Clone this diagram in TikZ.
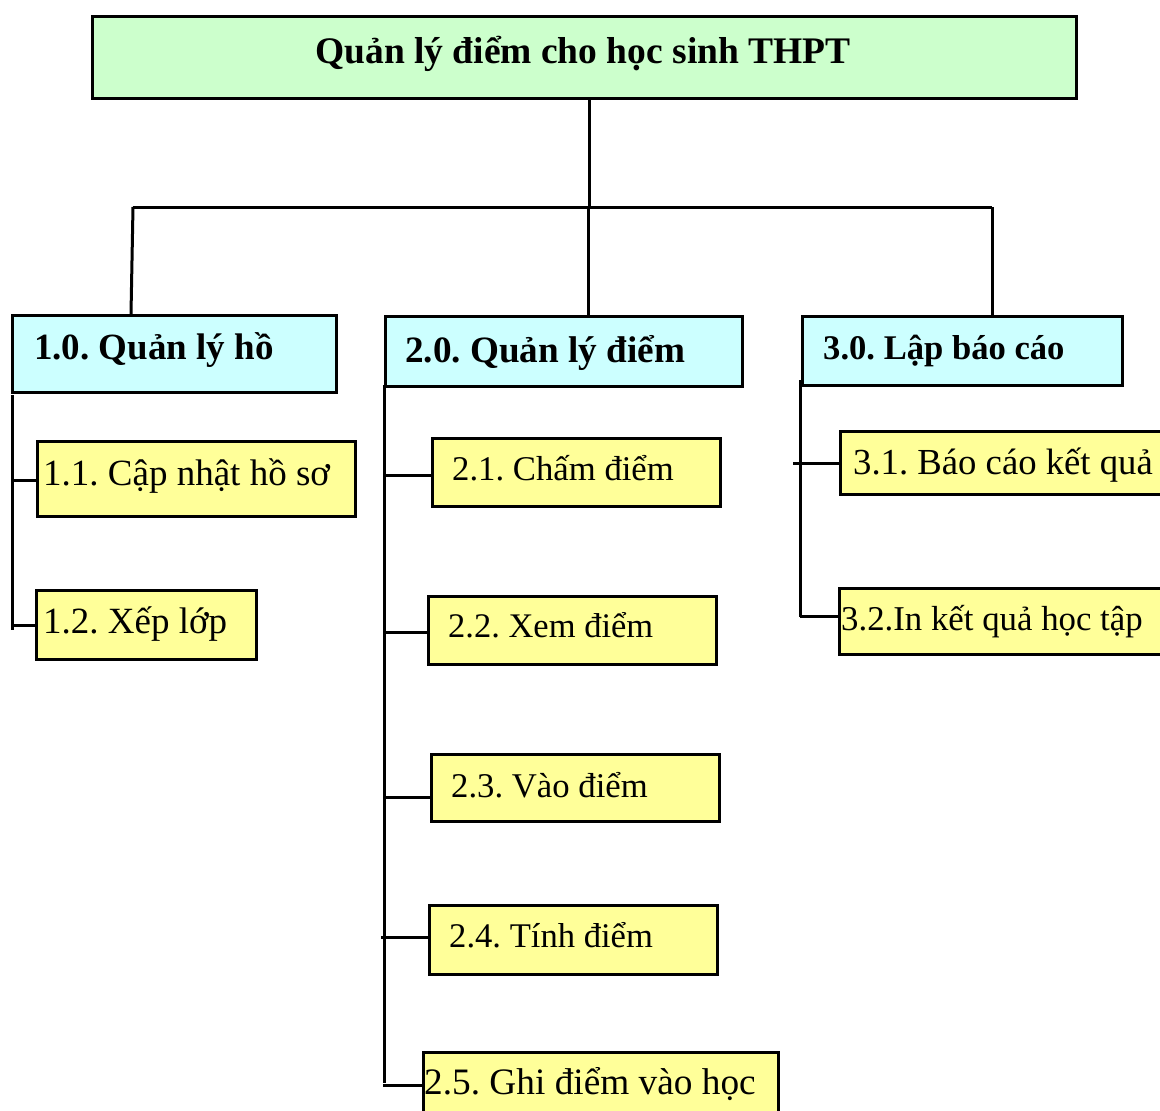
\documentclass[tikz,border=0pt]{standalone}
\usepackage{fontspec}
\setmainfont{Liberation Serif}
\frenchspacing
\definecolor{titlegreen}{HTML}{CCFFCC}
\definecolor{groupcyan}{HTML}{CCFFFF}
\definecolor{taskyellow}{HTML}{FFFF99}
\tikzset{
  frame/.style={draw=black, line width=2.6pt, inner sep=0pt, anchor=north west},
  titlebox/.style={frame, fill=titlegreen},
  groupbox/.style={frame, fill=groupcyan},
  taskbox/.style={frame, fill=taskyellow},
  headtext/.style={anchor=base, inner sep=0pt, font=\bfseries\fontsize{37.5}{42}\selectfont},
  grouptext/.style={anchor=base west, inner sep=0pt, font=\bfseries\fontsize{#1}{42}\selectfont},
  grouptext/.default=37,
  tasktext/.style={anchor=base west, inner sep=0pt, font=\fontsize{#1}{42}\selectfont},
  tasktext/.default=37,
  link/.style={draw=black, line width=3pt}
}
\begin{document}
\begin{tikzpicture}[x=1pt,y=-1pt]
\useasboundingbox[fill=white] (0,0) rectangle (1160,1111);

% root
\node[titlebox, minimum width=984pt, minimum height=82pt] (root) at (91,15) {};
\node[headtext] (roott) at (583,63) {Quản lý điểm cho học sinh THPT};

% first level
\node[groupbox, minimum width=324pt, minimum height=77pt] (g1) at (11,314) {};
\node[grouptext] (g1t) at (34,359) {1.0. Quản lý hồ};
\node[groupbox, minimum width=357pt, minimum height=70pt] (g2) at (384,315) {};
\node[grouptext=37.2] (g2t) at (405,362) {2.0. Quản lý điểm};
\node[groupbox, minimum width=320pt, minimum height=69pt] (g3) at (801,315) {};
\node[grouptext=34.6] (g3t) at (823,359) {3.0. Lập báo cáo};

% tasks of group 1
\node[taskbox, minimum width=318pt, minimum height=75pt] (t11) at (36,440) {};
\node[tasktext] (t11t) at (43,485) {1.1. Cập nhật hồ sơ};
\node[taskbox, minimum width=220pt, minimum height=69pt] (t12) at (35,589) {};
\node[tasktext] (t12t) at (43,633) {1.2. Xếp lớp};

% tasks of group 2
\node[taskbox, minimum width=288pt, minimum height=68pt] (t21) at (431,437) {};
\node[tasktext=34.7] (t21t) at (452,480) {2.1. Chấm điểm};
\node[taskbox, minimum width=288pt, minimum height=68pt] (t22) at (427,595) {};
\node[tasktext=34.5] (t22t) at (448,637) {2.2. Xem điểm};
\node[taskbox, minimum width=288pt, minimum height=67pt] (t23) at (430,753) {};
\node[tasktext=34.7] (t23t) at (451,797) {2.3. Vào điểm};
\node[taskbox, minimum width=288pt, minimum height=69pt] (t24) at (428,904) {};
\node[tasktext=34.6] (t24t) at (449,947) {2.4. Tính điểm};
\node[taskbox, minimum width=355pt, minimum height=66pt] (t25) at (422,1051) {};
\node[tasktext=37.3] (t25t) at (424,1094) {2.5. Ghi điểm vào học};

% tasks of group 3
\node[taskbox, minimum width=340pt, minimum height=63pt] (t31) at (839,430) {};
\node[tasktext=36.7] (t31t) at (853,474) {3.1. Báo cáo kết quả};
\node[taskbox, minimum width=340pt, minimum height=66pt] (t32) at (838,587) {};
\node[tasktext=34.8] (t32t) at (841,630) {3.2.In kết quả học tập};

% root to first level
\coordinate (busL) at (133,207);
\coordinate (busM) at (588,207);
\coordinate (busR) at (992,207);
\coordinate (rootdrop) at (589,207);
\draw[link] (rootdrop |- root.south) -- (rootdrop);
\draw[link] (busL) -- (busR);
\draw[link] (busL) -- (131,314);
\draw[link] (busM) -- (busM |- g2.north);
\draw[link] (busR) -- (busR |- g3.north);

% group 1 spine
\coordinate (s1a) at (12,395);
\coordinate (s1b) at (12,630);
\draw[link] (s1a) -- (s1b);
\draw[link] (12,480) -- (t11.west |- 0,480);
\draw[link] (12,625) -- (t12.west |- 0,625);

% group 2 spine
\coordinate (s2a) at (384,385);
\coordinate (s2b) at (384,1083);
\draw[link] (s2a) -- (s2b);
\draw[link] (384,475) -- (t21.west |- 0,475);
\draw[link] (384,632) -- (t22.west |- 0,632);
\draw[link] (384,797) -- (t23.west |- 0,797);
\draw[link] (381,937) -- (t24.west |- 0,937);
\draw[link] (383,1085) -- (t25.west |- 0,1085);

% group 3 spine
\coordinate (s3a) at (800,380);
\coordinate (s3b) at (800,617);
\draw[link] (s3a) -- (s3b);
\draw[link] (793,463) -- (t31.west |- 0,463);
\draw[link] (800,616) -- (t32.west |- 0,616);
\end{tikzpicture}
\end{document}
